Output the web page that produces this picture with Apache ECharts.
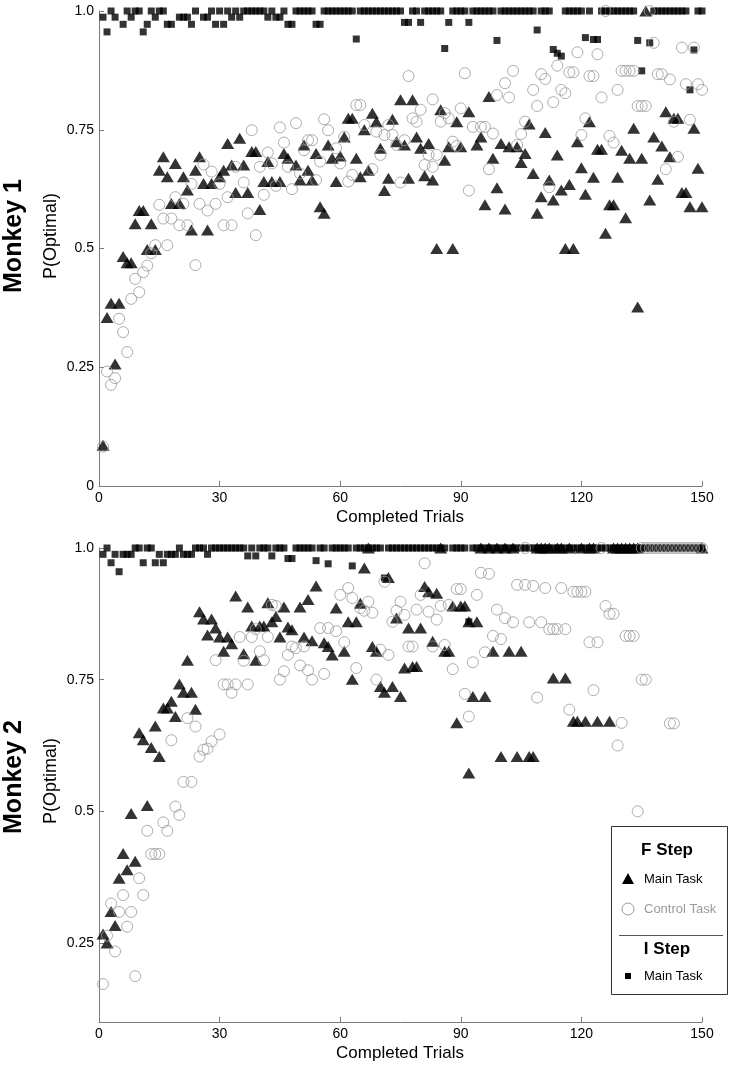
<!DOCTYPE html>
<html><head><meta charset="utf-8">
<script src="https://cdn.jsdelivr.net/npm/echarts@6/dist/echarts.min.js"></script>
<style>html,body{margin:0;padding:0;background:#fff}#c{width:733px;height:1065px}</style>
</head><body><div id="c"></div><script>
const trialTicks = [0, 30, 60, 90, 120, 150];
const m1YTicks = [0, 0.25, 0.5, 0.75, 1];
const m2YTicks = [0.25, 0.5, 0.75, 1];
const panelLabels = ['Monkey 1', 'Monkey 2'];
const yName = 'P(Optimal)';
const xName = 'Completed Trials';
const legendHeaders = ['F Step', 'I Step'];
const legendItems = ['Main Task', 'Control Task', 'Main Task'];

// Monkey 1 — F step, main task (triangles)
const m1Main = [[1,0.086],[2,0.355],[3,0.385],[4,0.257],[5,0.385],[6,0.483],[7,0.47],[8,0.47],[9,0.552],[10,0.58],[11,0.58],[12,0.498],[13,0.552],[14,0.498],[15,0.665],[16,0.693],[17,0.651],[18,0.595],[19,0.679],[20,0.595],[21,0.651],[22,0.623],[23,0.539],[24,0.665],[25,0.693],[26,0.637],[27,0.539],[28,0.637],[30,0.651],[31,0.665],[32,0.721],[33,0.676],[34,0.618],[35,0.732],[36,0.676],[37,0.618],[38,0.704],[39,0.704],[40,0.582],[41,0.641],[42,0.683],[43,0.641],[45,0.641],[46,0.7],[47,0.69],[49,0.676],[50,0.644],[51,0.718],[52,0.665],[53,0.644],[54,0.7],[55,0.588],[56,0.574],[57,0.718],[58,0.69],[59,0.641],[60,0.695],[61,0.735],[62,0.774],[63,0.774],[64,0.69],[65,0.651],[66,0.75],[67,0.665],[68,0.785],[69,0.767],[70,0.711],[71,0.622],[72,0.648],[73,0.772],[74,0.725],[75,0.813],[76,0.718],[77,0.648],[78,0.813],[79,0.735],[80,0.711],[81,0.653],[82,0.721],[83,0.644],[84,0.5],[85,0.792],[86,0.686],[87,0.714],[88,0.5],[89,0.767],[90,0.714],[92,0.788],[94,0.718],[95,0.735],[96,0.592],[97,0.82],[98,0.69],[99,0.628],[100,0.721],[101,0.583],[102,0.714],[104,0.714],[105,0.681],[106,0.7],[107,0.762],[108,0.658],[109,0.574],[110,0.609],[111,0.744],[112,0.644],[113,0.602],[114,0.697],[115,0.623],[116,0.5],[117,0.635],[118,0.5],[119,0.725],[120,0.67],[121,0.614],[122,0.767],[123,0.65],[124,0.709],[125,0.709],[126,0.532],[127,0.592],[128,0.592],[129,0.65],[130,0.707],[131,0.565],[132,0.69],[133,0.753],[134,0.377],[135,0.69],[136,1],[137,0.602],[138,0.735],[139,0.646],[140,0.716],[141,0.788],[142,0.693],[143,0.774],[144,0.774],[145,0.618],[146,0.618],[147,0.588],[148,0.753],[149,0.669],[150,0.588]];

// Monkey 1 — F step, control task (circles)
const m1Ctrl = [[1,0.083],[2,0.241],[3,0.213],[4,0.227],[5,0.352],[6,0.324],[7,0.282],[8,0.394],[9,0.436],[10,0.408],[11,0.45],[12,0.464],[13,0.49],[14,0.507],[15,0.592],[16,0.563],[17,0.507],[18,0.563],[19,0.608],[20,0.549],[21,0.594],[22,0.549],[23,0.636],[24,0.465],[25,0.594],[26,0.677],[27,0.58],[28,0.662],[29,0.594],[30,0.636],[31,0.549],[32,0.608],[33,0.549],[34,0.672],[36,0.639],[37,0.574],[38,0.749],[39,0.528],[40,0.672],[41,0.613],[42,0.702],[43,0.679],[44,0.632],[45,0.755],[46,0.723],[47,0.672],[48,0.625],[49,0.764],[50,0.658],[51,0.707],[52,0.728],[53,0.728],[54,0.644],[55,0.683],[56,0.772],[57,0.749],[59,0.711],[60,0.679],[61,0.735],[62,0.641],[63,0.655],[64,0.802],[65,0.802],[66,0.76],[68,0.667],[69,0.746],[70,0.697],[71,0.739],[72,0.76],[73,0.739],[74,0.718],[75,0.639],[76,0.728],[77,0.863],[78,0.774],[79,0.767],[80,0.792],[81,0.676],[82,0.697],[83,0.672],[83,0.814],[84,0.697],[85,0.767],[86,0.785],[87,0.774],[88,0.725],[89,0.716],[90,0.795],[91,0.869],[92,0.622],[93,0.756],[95,0.756],[96,0.756],[97,0.667],[98,0.742],[99,0.823],[101,0.848],[102,0.818],[103,0.874],[104,0.718],[105,0.741],[106,0.767],[108,0.834],[109,0.8],[110,0.867],[111,0.857],[112,0.629],[113,0.808],[114,0.885],[115,0.834],[116,0.827],[117,0.871],[118,0.871],[119,0.913],[120,0.739],[121,0.774],[122,0.863],[123,0.863],[124,0.909],[125,0.818],[126,1],[127,0.737],[128,0.723],[129,0.834],[130,0.874],[131,0.874],[132,0.874],[133,0.874],[134,0.8],[135,0.8],[136,0.8],[137,1],[138,0.933],[139,0.867],[140,0.867],[141,0.667],[142,0.856],[143,0.767],[144,0.693],[145,0.923],[146,0.846],[147,0.771],[148,0.923],[149,0.846],[150,0.834]];

// Monkey 1 — I step, main task (squares)
const m1IStep = [[1,0.987],[2,0.956],[3,1],[4,0.987],[6,0.972],[7,1],[8,0.987],[9,1],[10,1],[11,0.956],[12,0.972],[13,1],[14,0.987],[15,1],[16,1],[17,0.972],[18,0.972],[20,0.987],[21,0.987],[22,0.987],[23,0.972],[24,1],[26,0.987],[27,0.987],[28,1],[29,0.972],[30,1],[31,0.972],[32,1],[33,0.987],[34,1],[35,0.987],[36,1],[37,1],[38,1],[39,1],[40,1],[41,1],[42,0.987],[43,1],[44,0.987],[45,0.987],[46,1],[47,0.972],[48,0.972],[49,1],[50,1],[51,1],[52,1],[53,1],[54,0.972],[55,0.972],[56,1],[57,1],[58,1],[59,1],[60,1],[61,1],[62,1],[63,1],[64,0.941],[65,1],[66,1],[67,1],[68,1],[69,1],[70,1],[71,1],[72,1],[73,1],[74,1],[75,1],[76,0.976],[77,0.976],[78,1],[79,1],[80,0.976],[81,1],[82,1],[83,1],[84,1],[85,1],[86,0.921],[87,0.976],[88,1],[89,1],[90,1],[91,1],[92,0.976],[93,1],[94,1],[95,1],[96,1],[97,1],[98,1],[99,0.938],[100,1],[101,1],[102,1],[103,1],[104,1],[105,1],[106,1],[107,1],[108,1],[109,0.96],[110,1],[111,1],[112,1],[113,0.919],[114,0.911],[115,0.905],[116,1],[117,1],[118,1],[119,1],[120,1],[121,0.944],[122,1],[123,0.94],[124,0.94],[125,1],[126,1],[127,1],[128,1],[129,1],[130,1],[131,1],[132,1],[133,1],[134,0.938],[135,0.874],[137,0.933],[138,1],[139,1],[140,1],[141,1],[142,1],[143,1],[144,1],[145,1],[146,1],[147,0.834],[148,0.918],[149,1],[150,1]];

// Monkey 2 — F step, main task (triangles)
const m2Main = [[1,0.267],[2,0.25],[3,0.31],[4,0.283],[5,0.373],[6,0.42],[7,0.389],[8,0.496],[9,0.405],[10,0.649],[11,0.636],[12,0.511],[13,0.621],[14,0.662],[15,0.604],[16,0.696],[17,0.696],[18,0.709],[19,0.68],[20,0.742],[21,0.726],[22,0.787],[23,0.726],[24,0.694],[25,0.879],[26,0.865],[27,0.835],[28,0.865],[29,0.848],[30,0.831],[31,0.804],[32,0.831],[33,0.818],[34,0.909],[36,0.799],[37,0.888],[38,0.852],[39,0.787],[40,0.852],[41,0.852],[42,0.896],[43,0.86],[44,0.87],[45,0.831],[46,0.888],[47,0.85],[48,0.845],[50,0.888],[51,0.831],[52,0.902],[53,0.824],[54,0.928],[56,0.82],[57,0.813],[58,0.797],[59,0.886],[61,0.804],[62,0.86],[63,0.751],[64,0.86],[65,0.895],[66,0.962],[67,1],[68,0.813],[69,0.804],[70,0.737],[71,0.726],[72,0.944],[73,0.737],[74,0.867],[75,0.718],[76,0.772],[77,0.848],[78,0.775],[79,0.775],[80,0.848],[81,0.927],[82,0.917],[83,0.823],[84,0.914],[85,1],[86,0.804],[87,0.804],[88,0.89],[89,0.668],[90,0.89],[91,0.89],[92,0.573],[92,0.86],[93,0.718],[94,0.86],[95,1],[96,0.718],[97,1],[98,0.804],[99,1],[100,0.604],[101,1],[102,0.804],[103,1],[104,0.604],[105,0.804],[107,0.604],[108,0.604],[109,1],[110,1],[111,1],[112,1],[113,0.753],[114,1],[115,1],[116,0.753],[117,1],[118,0.671],[119,0.671],[120,1],[121,0.671],[122,1],[123,1],[124,0.671],[127,0.671],[128,1],[129,1],[130,1],[131,1],[132,1],[133,1],[134,1],[150,1]];

// Monkey 2 — F step, control task (circles)
const m2Ctrl = [[1,0.172],[2,0.264],[3,0.325],[4,0.234],[5,0.309],[6,0.341],[7,0.281],[8,0.309],[9,0.187],[10,0.373],[11,0.341],[12,0.463],[13,0.419],[14,0.419],[15,0.419],[16,0.479],[17,0.463],[18,0.635],[19,0.509],[20,0.493],[21,0.556],[22,0.677],[23,0.556],[24,0.661],[25,0.604],[26,0.617],[27,0.619],[28,0.633],[29,0.787],[30,0.646],[31,0.741],[32,0.741],[33,0.725],[34,0.741],[35,0.831],[36,0.786],[37,0.741],[38,0.831],[39,0.846],[40,0.804],[41,0.787],[42,0.831],[43,0.892],[44,0.89],[45,0.75],[46,0.766],[47,0.797],[48,0.813],[49,0.81],[50,0.777],[51,0.813],[52,0.768],[53,0.75],[55,0.848],[56,0.761],[57,0.848],[59,0.842],[60,0.911],[61,0.821],[62,0.924],[63,0.905],[64,0.772],[65,0.886],[66,0.881],[67,0.898],[68,0.877],[69,0.75],[70,0.807],[71,0.936],[72,0.797],[73,0.86],[74,0.881],[75,0.898],[76,0.873],[77,0.813],[78,0.813],[79,0.883],[80,0.911],[81,0.971],[82,0.879],[83,0.813],[84,0.864],[85,0.89],[86,0.816],[87,0.892],[88,0.77],[89,0.922],[90,0.922],[91,0.723],[92,0.68],[93,0.783],[94,0.911],[95,0.953],[96,0.802],[97,0.951],[98,0.833],[99,0.883],[100,0.827],[101,0.867],[103,0.859],[104,0.93],[106,0.93],[106,1],[107,0.859],[108,0.928],[109,0.716],[110,0.859],[111,0.924],[112,0.846],[113,0.846],[114,0.846],[115,0.924],[116,0.846],[117,0.693],[118,0.917],[119,0.917],[120,0.917],[121,0.917],[122,0.821],[123,0.73],[124,0.821],[125,1],[126,0.89],[127,0.875],[128,0.875],[129,0.625],[130,0.668],[131,0.833],[132,0.833],[133,0.833],[134,0.5],[135,0.75],[136,0.75],[135,1],[136,1],[137,1],[138,1],[139,1],[140,1],[141,1],[142,1],[142,0.667],[143,0.667],[143,1],[144,1],[145,1],[146,1],[147,1],[148,1],[149,1],[150,1]];

// Monkey 2 — I step, main task (squares)
const m2IStep = [[1,0.988],[2,1],[3,0.972],[4,0.988],[5,0.955],[6,0.988],[7,0.988],[8,0.988],[9,1],[10,1],[11,0.972],[12,1],[13,1],[14,0.972],[15,0.988],[16,0.972],[17,0.988],[18,0.988],[19,0.988],[20,1],[21,0.988],[22,0.988],[23,0.988],[24,1],[25,1],[26,1],[27,0.988],[28,1],[29,1],[30,1],[31,1],[32,1],[33,1],[34,1],[35,1],[36,1],[37,0.985],[38,1],[39,0.985],[40,1],[41,1],[42,1],[43,0.985],[44,1],[45,1],[46,1],[47,0.98],[48,0.98],[49,1],[50,1],[51,1],[52,1],[53,1],[54,0.976],[55,1],[56,1],[57,0.97],[58,1],[59,1],[60,1],[61,1],[62,1],[63,0.966],[64,1],[65,1],[66,1],[67,1],[68,1],[69,1],[70,1],[71,0.943],[72,1],[73,1],[74,1],[75,1],[76,1],[77,1],[78,1],[79,1],[80,1],[81,1],[82,1],[83,1],[84,1],[85,1],[86,1],[88,1],[89,1],[90,1],[91,1],[92,0.86],[93,1],[94,1],[95,1],[96,1],[97,1],[98,1],[99,1],[100,1],[101,1],[102,1],[103,1],[104,1],[105,1],[106,1],[107,1],[108,1],[109,1],[110,1],[111,1],[112,1],[113,1],[114,1],[115,1],[116,1],[117,1],[118,1],[119,1],[120,1],[121,1],[122,1],[123,1],[124,1],[125,1],[126,1],[127,1],[128,1],[129,1],[130,1],[131,1],[132,1],[133,1],[134,1],[135,1],[136,1],[137,1],[138,1],[139,1],[140,1],[141,1],[142,1],[143,1],[144,1],[145,1],[146,1],[147,1],[148,1],[149,1],[150,1]];

const FONT = '"Liberation Sans", Arial, Helvetica, sans-serif';
const AXIS = '#7a7a7a';
const CIRCLE = '#9a9a9a';
function fmt(v) { if (v === 0) return '0'; if (v === 1) return '1.0'; return String(v); }

function xAxis(gi) {
  return { type: 'value', gridIndex: gi, min: 0, max: 150, interval: 30,
    axisLine: { lineStyle: { color: AXIS, width: 1 } },
    axisTick: { inside: true, length: 5, lineStyle: { color: AXIS } },
    axisLabel: { color: '#000', fontSize: 14, fontFamily: FONT, margin: 5,
      customValues: trialTicks },
    splitLine: { show: false } };
}
function yAxis(gi, min, ticks) {
  return { type: 'value', gridIndex: gi, min: min, max: 1, interval: 0.25,
    axisLine: { show: true, lineStyle: { color: AXIS, width: 1 } },
    axisTick: { show: true, inside: true, length: 5, lineStyle: { color: AXIS }, customValues: ticks },
    axisLabel: { color: '#000', fontSize: 14, fontFamily: FONT, margin: 5, formatter: fmt, customValues: ticks },
    splitLine: { show: false } };
}
function tri(gi, data) {
  return { type: 'scatter', xAxisIndex: gi, yAxisIndex: gi, data: data, clip: false, z: 3,
    symbol: 'triangle', symbolSize: [13, 11], itemStyle: { color: '#000' } };
}
function circ(gi, data) {
  return { type: 'scatter', xAxisIndex: gi, yAxisIndex: gi, data: data, clip: false, z: 4,
    symbol: 'circle', symbolSize: 11,
    itemStyle: { color: 'rgba(0,0,0,0)', borderColor: CIRCLE, borderWidth: 1 } };
}
function sq(gi, data) {
  return { type: 'scatter', xAxisIndex: gi, yAxisIndex: gi, data: data, clip: false, z: 2,
    symbol: 'rect', symbolSize: 7, itemStyle: { color: '#000' } };
}
function rotText(x, y, text, size, weight) {
  return { type: 'text', x: x, y: y, rotation: Math.PI / 2, z: 10,
    style: { text: text, fill: '#000', font: weight + ' ' + size + 'px ' + FONT,
      textAlign: 'center', align: 'center', textVerticalAlign: 'middle', verticalAlign: 'middle' } };
}
function hText(x, y, text, size, weight, color, align) {
  return { type: 'text', x: x, y: y, z: 10,
    style: { text: text, fill: color, font: weight + ' ' + size + 'px ' + FONT,
      textAlign: align, align: align, textVerticalAlign: 'middle', verticalAlign: 'middle' } };
}

const chart = echarts.init(document.getElementById('c'), null, { renderer: 'canvas' });
chart.setOption({
  backgroundColor: '#fff',
  animation: false,
  grid: [
    { left: 99, top: 11, width: 603, height: 475 },
    { left: 99, top: 548, width: 603, height: 474 }
  ],
  xAxis: [xAxis(0), xAxis(1)],
  yAxis: [yAxis(0, 0, m1YTicks), yAxis(1, 0.1, m2YTicks)],
  series: [
    sq(0, m1IStep), tri(0, m1Main), circ(0, m1Ctrl),
    sq(1, m2IStep), tri(1, m2Main), circ(1, m2Ctrl)
  ],
  graphic: [
    rotText(14, 236, panelLabels[0], 25, 'bold'),
    rotText(51, 236, yName, 18, 'normal'),
    rotText(14, 777, panelLabels[1], 25, 'bold'),
    rotText(51, 781, yName, 18, 'normal'),
    hText(400, 517, xName, 17, 'normal', '#000', 'center'),
    hText(400, 1053, xName, 17, 'normal', '#000', 'center'),
    { type: 'rect', z: 9, shape: { x: 611.5, y: 826.5, width: 116, height: 168 },
      style: { fill: '#fff', stroke: '#333', lineWidth: 1 } },
    hText(667, 850, legendHeaders[0], 17, 'bold', '#000', 'center'),
    { type: 'polygon', z: 10, shape: { points: [[622, 884], [634, 884], [628, 873]] }, style: { fill: '#000' } },
    hText(644, 879, legendItems[0], 13, 'normal', '#000', 'left'),
    { type: 'circle', z: 10, shape: { cx: 628, cy: 909, r: 6 }, style: { fill: 'none', stroke: CIRCLE, lineWidth: 1 } },
    hText(644, 909, legendItems[1], 13, 'normal', '#999', 'left'),
    { type: 'line', z: 10, shape: { x1: 619, y1: 935.5, x2: 723, y2: 935.5 }, style: { stroke: '#555', lineWidth: 1 } },
    hText(667, 949, legendHeaders[1], 17, 'bold', '#000', 'center'),
    { type: 'rect', z: 10, shape: { x: 625, y: 973, width: 6, height: 6 }, style: { fill: '#000' } },
    hText(644, 976, legendItems[2], 13, 'normal', '#000', 'left')
  ]
});
</script></body></html>
